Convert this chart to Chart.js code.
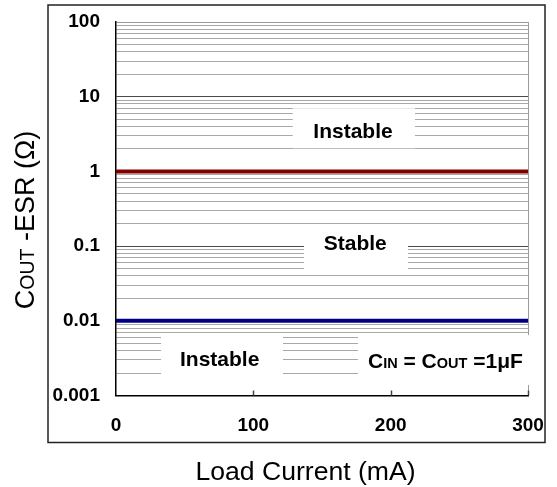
<!DOCTYPE html>
<html>
<head>
<meta charset="utf-8">
<script src="https://cdn.jsdelivr.net/npm/chart.js@4.4.1/dist/chart.umd.min.js"></script>
<style>
  body { margin: 0; background: #fff; }
  #wrap { width: 557px; height: 487px; position: relative; }
</style>
</head>
<body>
<div id="wrap"><canvas id="chart"></canvas></div>
<script>
const loadCurrent = [0, 300];
const esrUpper = [1, 1];
const esrLower = [0.01, 0.01];
const xTicks = [0, 100, 200, 300];
const yTicks = [0.001, 0.01, 0.1, 1, 10, 100];
const minorSteps = [2, 3, 4, 5, 6, 7, 8, 9];

const FONT = '"Liberation Sans", Arial, sans-serif';

// region labels (data units); box = [x0, x1, yTop, yBottom]
const regions = [
  { text: [['Instable', 21]], x: 172.6, y: 2.81, align: 'center', box: [128.7, 217.7, 7.0, 2.04] },
  { text: [['Stable', 21]], x: 174.2, y: 0.0883, align: 'center', box: [136.9, 212.6, 0.197, 0.0492] },
  { text: [['Instable', 21]], x: 75.5, y: 0.00248, align: 'center', box: [32.8, 121.6, 0.00644, 0.00105] },
  { text: [['C', 21], ['IN', 14.5], [' = C', 21], ['OUT', 14.5], [' =1\u03bcF', 21]], x: 183.5, y: 0.00231, align: 'left', box: [176.2, 303.6, 0.00644, 0.00138] }
];

// all log grid positions: decades plus 2..9 in between
const yGrid = [];
yTicks.forEach((d, i) => {
  yGrid.push(d);
  if (i < yTicks.length - 1) minorSteps.forEach(m => yGrid.push(+(d * m).toPrecision(3)));
});

function richWidth(ctx, parts, bold) {
  let w = 0;
  parts.forEach(([t, s]) => { ctx.font = `${bold ? 'bold ' : ''}${s}px ${FONT}`; w += ctx.measureText(t).width; });
  return w;
}

function drawRich(ctx, parts, x, y, align, bold) {
  let cx = align === 'center' ? x - richWidth(ctx, parts, bold) / 2 : x;
  ctx.textAlign = 'left';
  ctx.textBaseline = 'alphabetic';
  parts.forEach(([t, s]) => {
    ctx.font = `${bold ? 'bold ' : ''}${s}px ${FONT}`;
    ctx.fillText(t, cx, y);
    cx += ctx.measureText(t).width;
  });
}

const overlay = {
  id: 'overlay',
  beforeDatasetsDraw(chart) {
    const { ctx, scales: { x, y } } = chart;
    ctx.save();
    regions.forEach(r => {
      const x0 = x.getPixelForValue(r.box[0]), x1 = x.getPixelForValue(r.box[1]);
      const y0 = y.getPixelForValue(r.box[2]), y1 = y.getPixelForValue(r.box[3]);
      ctx.fillStyle = '#fff';
      ctx.fillRect(x0, y0, x1 - x0, y1 - y0);
      ctx.fillStyle = '#000';
      drawRich(ctx, r.text, x.getPixelForValue(r.x), y.getPixelForValue(r.y), r.align, true);
    });
    ctx.restore();
  },
  afterDraw(chart) {
    const { ctx, chartArea: a, scales: { x } } = chart;
    ctx.save();
    // inner tick marks on the x axis
    ctx.strokeStyle = '#444';
    ctx.lineWidth = 1.5;
    xTicks.slice(1).forEach(v => {
      const px = Math.round(x.getPixelForValue(v)) + 0.5;
      ctx.beginPath();
      ctx.moveTo(px, a.bottom);
      ctx.lineTo(px, a.bottom - 5);
      ctx.stroke();
    });
    // outer frame
    ctx.strokeStyle = '#222';
    ctx.lineWidth = 1.5;
    ctx.strokeRect(48, 5, 497, 437.5);
    // axis titles
    ctx.fillStyle = '#000';
    ctx.font = `26.6px ${FONT}`;
    ctx.textAlign = 'center';
    ctx.textBaseline = 'alphabetic';
    ctx.fillText('Load Current (mA)', 305.5, 480);
    const yTitle = [['C', 27], ['OUT', 19.5], [' -ESR (\u03a9)', 27]];
    ctx.translate(33.5, 220);
    ctx.rotate(-Math.PI / 2);
    drawRich(ctx, yTitle, 0, 0, 'center', false);
    ctx.restore();
  }
};

new Chart(document.getElementById('chart'), {
  type: 'line',
  data: {
    datasets: [
      {
        label: 'Upper ESR limit',
        data: loadCurrent.map((v, i) => ({ x: v, y: esrUpper[i] })),
        borderColor: '#800000',
        borderWidth: 4,
        pointRadius: 0
      },
      {
        label: 'Lower ESR limit',
        data: loadCurrent.map((v, i) => ({ x: v, y: esrLower[i] })),
        borderColor: '#000080',
        borderWidth: 4,
        pointRadius: 0
      }
    ]
  },
  options: {
    responsive: true,
    maintainAspectRatio: false,
    animation: false,
    layout: { padding: { top: 22, right: 29, left: 0, bottom: 0 } },
    plugins: { legend: { display: false }, tooltip: { enabled: false } },
    scales: {
      x: {
        type: 'linear',
        min: 0,
        max: 300,
        afterBuildTicks: s => { s.ticks = xTicks.map(v => ({ value: v })); },
        afterFit: s => { s.height = 91.5; s.paddingLeft = 0; s.paddingRight = 0; },
        ticks: {
          autoSkip: false,
          maxRotation: 0,
          padding: 19,
          color: '#000',
          font: { family: FONT, size: 19, weight: 'bold' }
        },
        grid: {
          drawTicks: false,
          color: c => (c.tick && c.tick.value === 300 ? '#9a9a9a' : 'rgba(0,0,0,0)')
        },
        border: { color: '#000', width: 1.5 }
      },
      y: {
        type: 'logarithmic',
        min: 0.001,
        max: 100,
        afterBuildTicks: s => { s.ticks = yGrid.map(v => ({ value: v })); },
        afterFit: s => { s.width = 116; s.paddingTop = 0; s.paddingBottom = 0; },
        ticks: {
          autoSkip: false,
          padding: 16,
          color: '#000',
          font: { family: FONT, size: 19, weight: 'bold' },
          callback: v => (yTicks.includes(v) ? String(v) : '')
        },
        grid: {
          drawTicks: false,
          color: c => {
            const v = c.tick && c.tick.value;
            if (v === 100) return '#9a9a9a';
            return yTicks.includes(v) ? '#4a4a4a' : '#a8a8a8';
          }
        },
        border: { color: '#000', width: 1.5 }
      }
    }
  },
  plugins: [overlay]
});
</script>
</body>
</html>
